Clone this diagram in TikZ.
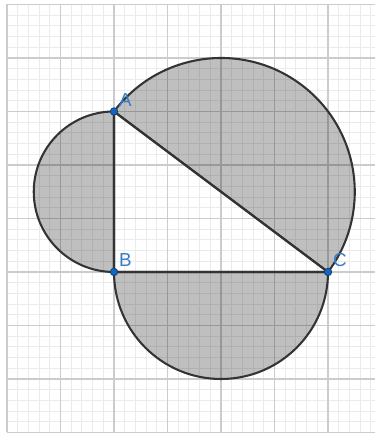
\documentclass[tikz,border=0pt]{standalone}
\usepackage{fontspec}
\setmainfont{Liberation Sans}
\usetikzlibrary{positioning}
\definecolor{ggblue}{HTML}{1565C0}
\definecolor{ggdark}{HTML}{333333}

\begin{document}
\begin{tikzpicture}[
  font=\fontsize{10}{12}\selectfont,
  minorgrid/.style={draw=black!8, line width=0.5pt},
  majorgrid/.style={draw=black!20, line width=0.8pt},
  region/.style={fill=black, fill opacity=0.25, draw=ggdark, line width=1.1pt},
  side/.style={draw=ggdark, line width=1.1pt},
  dot/.style={circle, fill=ggblue, draw=ggblue!60!black, line width=0.4pt, inner sep=0pt, minimum size=1.4mm},
  lbl/.style={text=ggblue!85, inner sep=1pt}
]
\useasboundingbox (-2.131,-3.047) rectangle (4.879,5.084);
\fill[white] (-2.131,-3.047) rectangle (4.879,5.084);

% grid
\draw[minorgrid, step=0.2] (-2,-3) grid (4.879,5);
\draw[majorgrid, step=1] (-2,-3) grid (4.879,5);

\coordinate (B) at (0,0);
\coordinate (A) at (0,3);
\coordinate (C) at (4,0);

% semicircles on the sides
\filldraw[region] (A) arc[start angle=90, end angle=270, radius=1.5] -- cycle;
\filldraw[region] (B) arc[start angle=180, end angle=360, radius=2] -- cycle;
\filldraw[region] (C) arc[start angle=-36.87, end angle=143.13, radius=2.5] -- cycle;

\draw[side] (A) -- (B) -- (C) -- cycle;

\node[dot] (a) at (A) {};
\node[dot] (b) at (B) {};
\node[dot] (c) at (C) {};
\node[lbl, above right=0pt and 0pt of a] (labA) {A};
\node[lbl, above right=0pt and 0pt of b] (labB) {B};
\node[lbl, above right=0pt and 0pt of c] (labC) {C};
\end{tikzpicture}
\end{document}
